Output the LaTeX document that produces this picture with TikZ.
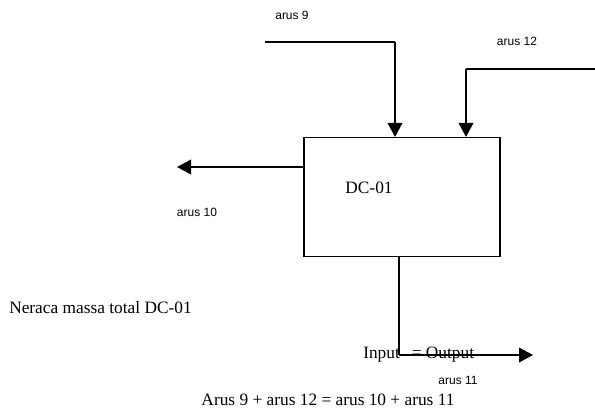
\documentclass[tikz,border=0pt]{standalone}
\usepackage{fontspec}
\setmainfont{Liberation Serif}
\setsansfont{Liberation Sans}
\usetikzlibrary{arrows.meta}
\begin{document}
\begin{tikzpicture}[
        x=0.75pt, y=-0.75pt,
        unit/.style={rectangle, minimum width=147pt, minimum height=89pt, draw=black, line width=1.1pt, inner sep=0pt},
        stream/.style={font=\sffamily\fontsize{9}{11}\selectfont, inner sep=0pt},
        note/.style={font=\fontsize{13}{15}\selectfont, inner sep=0pt},
        arrow/.style={line width=1.1pt, -{Triangle[width=11pt, length=10.5pt]}},
        pipe/.style={line width=1.1pt}
    ]
        \useasboundingbox (0,0) rectangle (595,412);

        % unit
        \node (dc) [unit] at (402,197) {};
        \node (dclabel) [note] at (369,188) {DC-01};

        % stream labels
        \node (l9) [stream] at (292,15) {arus 9};
        \node (l12) [stream] at (517,41) {arus 12};
        \node (l10) [stream] at (197,212) {arus 10};
        \node (l11) [stream] at (458,380) {arus 11};

        % texts
        \node (title) [note, anchor=west] at (9,308) {Neraca massa total DC-01};
        \node (io) [note, anchor=west] at (363,355) {Input\hspace{9pt}= Output};
        \node (eq) [note] at (328,400) {Arus 9 + arus 12 = arus 10 + arus 11};

        % stream lines
        \coordinate (s9) at (265,42);
        \coordinate (k9) at (395,42);
        \coordinate (s12) at (595,69);
        \coordinate (k12) at (466,69);
        \coordinate (e10) at (177,167);
        \coordinate (k11) at (399,355);
        \coordinate (e11) at (533,355);

        \draw [pipe] (s9) -- (k9);
        \draw [arrow] (k9) -- (k9 |- dc.north);
        \draw [pipe] (s12) -- (k12);
        \draw [arrow] (k12) -- (k12 |- dc.north);
        \draw [arrow] (dc.west |- e10) -- (e10);
        \draw [pipe] (dc.south -| k11) -- (k11);
        \draw [arrow] (k11) -- (e11);
    \end{tikzpicture}
\end{document}
